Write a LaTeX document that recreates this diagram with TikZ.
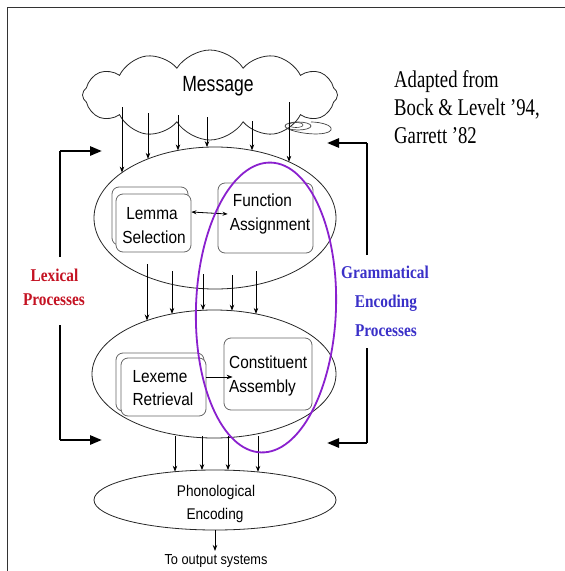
\documentclass[tikz,border=0pt]{standalone}
\usepackage{fontspec}
\usetikzlibrary{shapes.geometric,shapes.symbols,arrows.meta}
\newfontfamily\diagsans[FakeStretch=0.88]{Liberation Sans}
\newfontfamily\cloudsans[FakeStretch=0.8]{Liberation Sans}
\newfontfamily\notefont[FakeStretch=0.78]{Liberation Serif}
\newfontfamily\labelserif[FakeStretch=0.85]{Liberation Serif}
\definecolor{lexred}{RGB}{196,18,34}
\definecolor{grammblue}{RGB}{58,48,200}
\definecolor{ringviolet}{RGB}{138,32,206}
\begin{document}
\begin{tikzpicture}[x=1pt,y=-1pt,
  stage/.style={ellipse,draw=black!85,line width=0.8pt,inner sep=0pt},
  procbox/.style={draw=black!60,rounded corners=7pt,line width=0.8pt,fill=white,inner sep=0pt},
  boxtext/.style={font=\diagsans\fontsize{17.5}{20}\selectfont,inner sep=0pt},
  smalltext/.style={font=\diagsans\fontsize{15.5}{18}\selectfont,inner sep=0pt},
  sidelabel/.style={font=\labelserif\bfseries\fontsize{18}{20}\selectfont,inner sep=0pt,anchor=base},
  thinarrow/.style={line width=0.8pt,-{Stealth[length=6pt,width=4.5pt]}},
  bothways/.style={line width=0.8pt,{Stealth[length=5pt,width=4pt]}-{Stealth[length=5pt,width=4pt]}},
  bracket/.style={line width=2.6pt,-{Triangle[length=12pt,width=9pt]}},
  bracketbar/.style={line width=2.6pt}]
\useasboundingbox (0,0) rectangle (565,571);

% page frame
\draw[line width=1.4pt,black!80] (7.5,571) -- (7.5,7.5) -- (565,7.5);

% message cloud
\node[cloud,draw=black!85,line width=0.8pt,cloud puffs=12,cloud puff arc=115,
      cloud ignores aspect,minimum width=255pt,minimum height=90pt] (msgcloud) at (210,95) {};
\draw[black!75,line width=0.7pt] (298,126) ellipse [x radius=13pt,y radius=4pt];
\draw[black!75,line width=0.6pt] (296,125) ellipse [x radius=7pt,y radius=2.5pt];
\draw[black!75,line width=0.7pt] (286,128) .. controls (300,135) and (328,136) .. (331,130)
      .. controls (333,125) and (320,122) .. (311,122);
\node[font=\cloudsans\fontsize{22}{24}\selectfont,inner sep=0pt,anchor=base] (msgtext) at (218,91) {Message};

% grammatical stage
\node[stage,minimum width=242pt,minimum height=142pt] (upper) at (215,218) {};
\node[procbox,minimum width=76pt,minimum height=58pt] (lemmaback) at (150,216) {};
\node[procbox,minimum width=75pt,minimum height=58pt] (lemma) at (153.5,223) {};
\node[procbox,minimum width=95pt,minimum height=70pt] (func) at (265.5,218) {};
\node[boxtext,anchor=base] (lemmaA) at (152,219.5) {Lemma};
\node[boxtext,anchor=base] (lemmaB) at (154,243) {Selection};
\node[boxtext,anchor=base] (funcA) at (262.5,206.5) {Function};
\node[boxtext,anchor=base] (funcB) at (270,230.5) {Assignment};
\coordinate (lemmaport) at ([yshift=11pt]lemma.east);
\coordinate (funcport) at ([xshift=10pt,yshift=4pt]func.west);
\draw[bothways] (lemmaport) -- (funcport);

% positional stage
\node[stage,minimum width=244pt,minimum height=128pt] (lower) at (214,374) {};
\node[procbox,minimum width=88pt,minimum height=58pt] (lexback) at (160,382) {};
\node[procbox,minimum width=85pt,minimum height=58pt] (lexeme) at (163.5,387) {};
\node[procbox,minimum width=88pt,minimum height=72pt] (const) at (268,374) {};
\node[boxtext,anchor=base] (lexA) at (160,382) {Lexeme};
\node[boxtext,anchor=base] (lexB) at (163,405.5) {Retrieval};
\node[boxtext,anchor=base west] (constA) at (229,368.5) {Constituent};
\node[boxtext,anchor=base west] (constB) at (229,392.5) {Assembly};
\coordinate (lexport) at ([yshift=10pt]lexeme.east);
\coordinate (constport) at ([xshift=9pt,yshift=-3pt]const.west);
\draw[thinarrow] (lexport) -- (constport);

% phonological stage
\node[stage,minimum width=242pt,minimum height=60pt] (phon) at (215,500) {};
\node[smalltext,anchor=base] (phonA) at (216,496) {Phonological};
\node[smalltext,anchor=base] (phonB) at (215,519) {Encoding};
\coordinate (outlet) at (215,551);
\draw[thinarrow] (phon.south) -- (outlet);
\node[font=\diagsans\fontsize{14.5}{16}\selectfont,inner sep=0pt,anchor=base]
      (output) at ([xshift=1pt,yshift=-13pt]outlet) {To output systems};

% message to grammatical stage
\foreach \px/\py in {122/107,148/113,178/115,207/117,252/121,289/102}{
  \pgfmathsetmacro\pend{218-71*sqrt(1-((\px-215)/121)^2)}
  \draw[thinarrow] (\px,\py) -- (\px,\pend);
}
% grammatical to positional stage
\foreach \px/\py in {147/264,172/271,203/274,232/275,256/271}{
  \pgfmathsetmacro\pend{374-64*sqrt(1-((\px-214)/122)^2)}
  \draw[thinarrow] (\px,\py) -- (\px,\pend);
}
% positional to phonological stage
\foreach \px in {175,202,228,258}{
  \pgfmathsetmacro\pend{500-30*sqrt(1-((\px-215)/121)^2)}
  \draw[thinarrow] (\px,436) -- (\px,\pend);
}

% lexical processes bracket
\coordinate (lexTop) at (60,151);
\coordinate (lexBot) at (60,440);
\coordinate (lexTopTip) at (102,151);
\coordinate (lexBotTip) at (102,440);
\node[sidelabel,text=lexred] (lexlabA) at (54.5,281) {Lexical};
\node[sidelabel,text=lexred] (lexlabB) at (54,305) {Processes};
\draw[bracketbar] (60,257) -- (lexTop);
\draw[bracket] (lexTop) -- (lexTopTip);
\draw[bracketbar] (60,325) -- (lexBot);
\draw[bracket] (lexBot) -- (lexBotTip);

% grammatical encoding bracket
\coordinate (gramTop) at (367,143);
\coordinate (gramBot) at (367,443);
\coordinate (gramTopTip) at (327,143);
\coordinate (gramBotTip) at (327,443);
\node[sidelabel,text=grammblue] (gramlabA) at (385,278) {Grammatical};
\node[sidelabel,text=grammblue] (gramlabB) at (386,307) {Encoding};
\node[sidelabel,text=grammblue] (gramlabC) at (386,336) {Processes};
\draw[bracketbar] (367,255) -- (gramTop);
\draw[bracket] (gramTop) -- (gramTopTip);
\draw[bracketbar] (367,348) -- (gramBot);
\draw[bracket] (gramBot) -- (gramBotTip);

% grammatical encoding ring
\node[ellipse,draw=ringviolet,line width=1.8pt,inner sep=0pt,
      minimum width=140pt,minimum height=290pt,rotate=-2] (ring) at (266,307.5) {};

% source note
\node[font=\notefont\fontsize{24}{28}\selectfont,inner sep=0pt,anchor=base west] (noteA) at (394,87) {Adapted from};
\node[font=\notefont\fontsize{24}{28}\selectfont,inner sep=0pt,anchor=base west] (noteB) at (394,115) {Bock \& Levelt ’94,};
\node[font=\notefont\fontsize{24}{28}\selectfont,inner sep=0pt,anchor=base west] (noteC) at (394,143) {Garrett ’82};
\end{tikzpicture}
\end{document}
